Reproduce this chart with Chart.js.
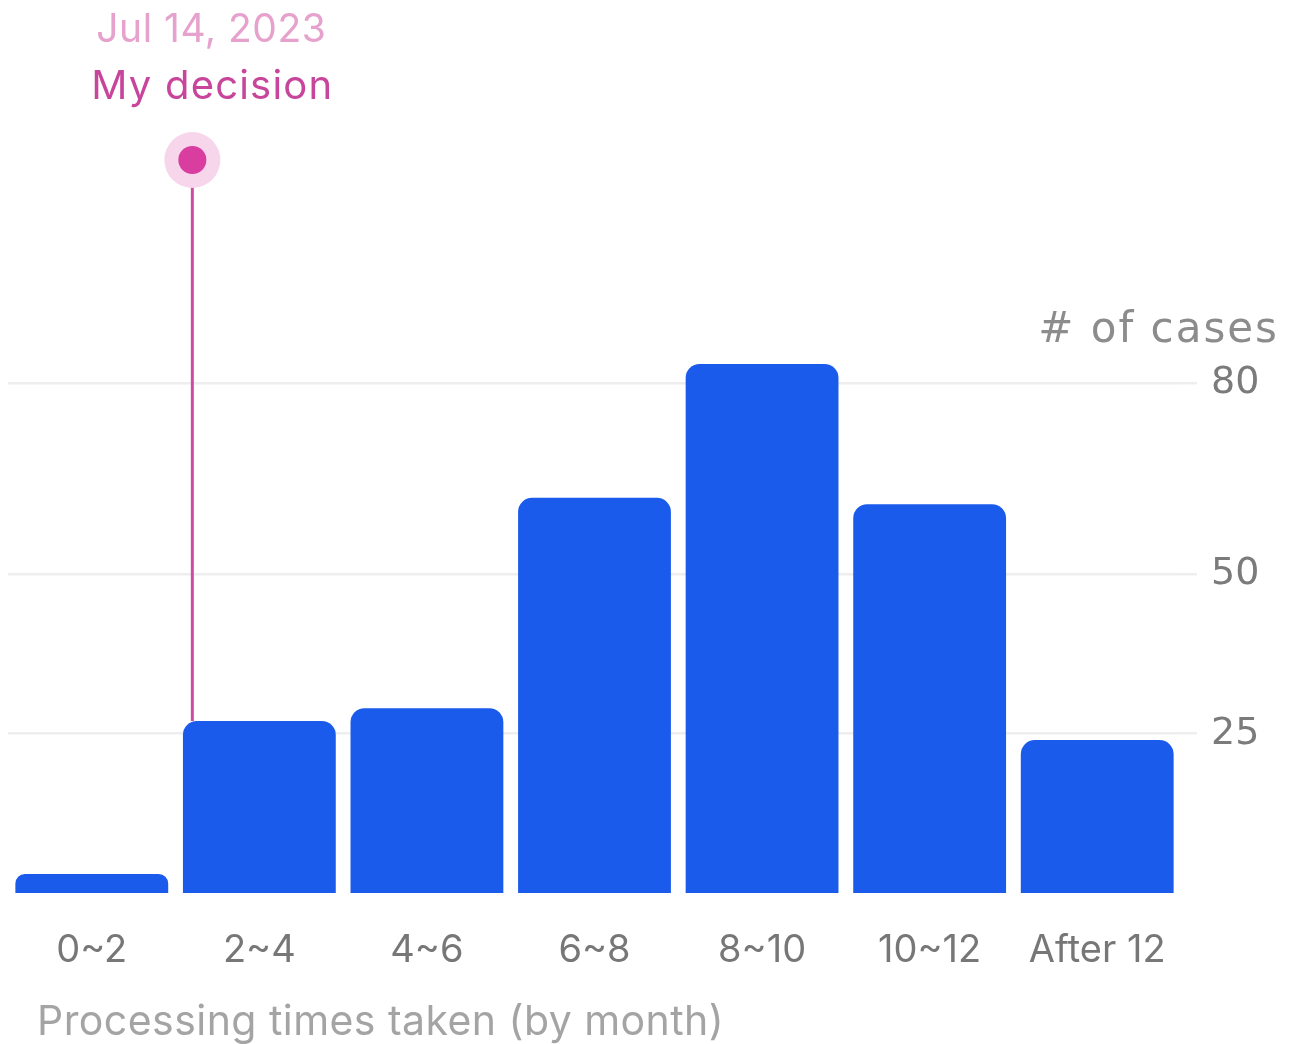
<!DOCTYPE html>
<html>
<head>
<meta charset="utf-8">
<script src="https://cdn.jsdelivr.net/npm/chart.js@4"></script>
<style>
  html, body { margin: 0; padding: 0; background: #ffffff; }
  #wrap { width: 1296px; height: 1044px; position: relative; }
</style>
</head>
<body>
<div id="wrap"><canvas id="c" width="1296" height="1044"></canvas></div>
<script>
// ---- data ----
const categories = ['0~2', '2~4', '4~6', '6~8', '8~10', '10~12', 'After 12'];
const caseCounts = [3, 27, 29, 62, 83, 61, 24];
const yTickValues = [25, 50, 80];
const yAxisMax = 115;
const yAxisLabel = '# of cases';
const xAxisLabel = 'Processing times taken (by month)';
const decisionDate = 'Jul 14, 2023';
const decisionLabel = 'My decision';
const decisionMonths = 2.2;      // position of "my decision" on the month axis
const decisionBarIndex = 1;      // bar the marker line lands on
const monthsPerCategory = 2;

const SANS = 'Inter, "DejaVu Sans", sans-serif';
const WIDE = '"DejaVu Sans", Roboto, sans-serif';

const decisionPlugin = {
  id: 'decisionMarker',
  afterDraw(chart) {
    const ctx = chart.ctx;
    const xs = chart.scales.x, ys = chart.scales.y;
    const p0 = xs.getPixelForValue(0), p1 = xs.getPixelForValue(1);
    const idx = decisionMonths / monthsPerCategory - 0.5;
    const lx = p0 + idx * (p1 - p0);
    const topY = ys.getPixelForValue(yAxisMax);
    const barTop = ys.getPixelForValue(caseCounts[decisionBarIndex]);
    ctx.save();
    // line
    ctx.strokeStyle = '#cf4aa0';
    ctx.lineWidth = 3;
    ctx.beginPath();
    ctx.moveTo(lx, topY + 20);
    ctx.lineTo(lx, barTop);
    ctx.stroke();
    // halo + dot
    ctx.fillStyle = '#f7d5ea';
    ctx.beginPath(); ctx.arc(lx, topY, 28, 0, Math.PI * 2); ctx.fill();
    ctx.fillStyle = '#d83d9f';
    ctx.beginPath(); ctx.arc(lx, topY, 14, 0, Math.PI * 2); ctx.fill();
    // labels
    ctx.textAlign = 'center';
    ctx.textBaseline = 'alphabetic';
    ctx.font = '39px ' + SANS;
    ctx.letterSpacing = '0.5px';
    ctx.fillStyle = '#e6a1cd';
    ctx.fillText(decisionDate, lx + 19, 42);
    ctx.font = '40px ' + SANS;
    ctx.letterSpacing = '1.2px';
    ctx.fillStyle = '#c8459c';
    ctx.fillText(decisionLabel, lx + 20, 99);
    // y axis caption
    ctx.textAlign = 'right';
    ctx.font = '42px ' + WIDE;
    ctx.letterSpacing = '2px';
    ctx.fillStyle = '#8c8c8c';
    ctx.fillText(yAxisLabel, 1279, ys.getPixelForValue(80) - 41);
    // x axis caption
    ctx.textAlign = 'left';
    ctx.font = '41px ' + SANS;
    ctx.letterSpacing = '0.45px';
    ctx.fillStyle = '#a4a4a4';
    ctx.fillText(xAxisLabel, 37, 1035);
    ctx.restore();
  }
};

new Chart(document.getElementById('c'), {
  type: 'bar',
  data: {
    labels: categories,
    datasets: [{
      data: caseCounts,
      backgroundColor: '#1b5bec',
      borderRadius: { topLeft: 14, topRight: 14, bottomLeft: 0, bottomRight: 0 },
      borderSkipped: 'bottom',
      barPercentage: 0.912,
      categoryPercentage: 1.0
    }]
  },
  options: {
    responsive: false,
    animation: false,
    devicePixelRatio: 1,
    layout: { padding: { left: 8, top: 160, right: 0, bottom: 0 } },
    plugins: { legend: { display: false }, tooltip: { enabled: false }, title: { display: false } },
    scales: {
      x: {
        grid: { display: false, drawTicks: false },
        border: { display: false },
        ticks: {
          color: '#777777',
          font: { family: SANS, size: 38 },
          padding: 35,
          maxRotation: 0,
          autoSkip: false
        },
        afterFit(scale) { scale.height = 151; }
      },
      y: {
        position: 'right',
        min: 0,
        max: yAxisMax,
        afterBuildTicks(scale) { scale.ticks = yTickValues.map(v => ({ value: v })); },
        afterFit(scale) { scale.width = 115; },
        grid: { color: '#eeeeee', lineWidth: 2.5, drawTicks: true, tickLength: 16, tickColor: '#eeeeee' },
        border: { display: false },
        ticks: {
          color: '#7b7b7b',
          font: { family: WIDE, size: 38 },
          padding: 14
        }
      }
    }
  },
  plugins: [decisionPlugin]
});
</script>
</body>
</html>
